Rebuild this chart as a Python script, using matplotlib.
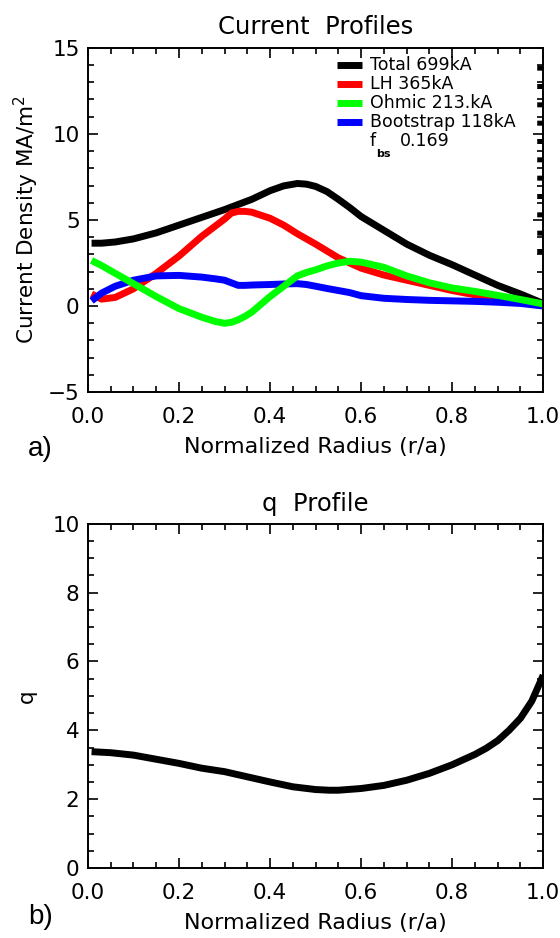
import matplotlib
matplotlib.use("Agg")
import matplotlib.pyplot as plt
from matplotlib.ticker import MultipleLocator

# radial grid for current profiles
r = [0.008, 0.03, 0.06, 0.1, 0.15, 0.2, 0.25, 0.28, 0.3, 0.315, 0.33, 0.345, 0.36, 0.4, 0.43,
     0.46, 0.48, 0.5, 0.525, 0.55, 0.575, 0.6, 0.65, 0.7, 0.75, 0.8, 0.85, 0.9, 0.95, 1.0]
j_total = [3.65, 3.65, 3.72, 3.9, 4.25, 4.7, 5.15, 5.42, 5.6, 5.75, 5.9, 6.05, 6.2, 6.7, 6.98,
           7.12, 7.08, 6.95, 6.65, 6.2, 5.72, 5.2, 4.4, 3.6, 2.95, 2.4, 1.8, 1.2, 0.7, 0.15]
j_lh = [0.7, 0.4, 0.5, 1.0, 1.9, 2.9, 4.05, 4.65, 5.05, 5.4, 5.5, 5.5, 5.45, 5.1, 4.7,
        4.2, 3.9, 3.6, 3.2, 2.8, 2.5, 2.2, 1.8, 1.5, 1.2, 0.9, 0.65, 0.45, 0.3, 0.12]
j_ohmic = [2.65, 2.35, 1.9, 1.3, 0.55, -0.15, -0.65, -0.9, -1.0, -0.95, -0.8, -0.6, -0.35, 0.55, 1.15,
           1.75, 1.95, 2.1, 2.33, 2.5, 2.6, 2.55, 2.25, 1.75, 1.35, 1.05, 0.85, 0.62, 0.38, 0.12]
j_bs = [0.3, 0.75, 1.15, 1.5, 1.75, 1.78, 1.68, 1.58, 1.5, 1.35, 1.2, 1.2, 1.22, 1.25, 1.28,
        1.3, 1.25, 1.15, 1.02, 0.9, 0.78, 0.6, 0.45, 0.38, 0.33, 0.3, 0.27, 0.22, 0.15, 0.0]

legend_labels = ["Total 699kA", "LH 365kA", "Ohmic 213.kA", "Bootstrap 118kA"]
fbs = "0.169"

# q profile
r_q = [0.008, 0.05, 0.1, 0.15, 0.2, 0.25, 0.3, 0.35, 0.4, 0.45, 0.5, 0.53, 0.55,
       0.6, 0.65, 0.7, 0.75, 0.8, 0.85, 0.875, 0.9, 0.925, 0.95, 0.975, 0.99, 1.0]
q = [3.38, 3.35, 3.28, 3.16, 3.04, 2.9, 2.8, 2.65, 2.5, 2.36, 2.28, 2.26, 2.26,
     2.31, 2.4, 2.55, 2.75, 3.0, 3.3, 3.48, 3.7, 4.0, 4.35, 4.85, 5.3, 5.6]

plt.rcParams["font.family"] = ["DejaVu Sans"]

fig = plt.figure(figsize=(5.6, 9.38), dpi=100)
ax1 = fig.add_axes([0.157, 0.582, 0.813, 0.367])
ax2 = fig.add_axes([0.157, 0.0746, 0.813, 0.367])


def style_axes(ax):
    ax.tick_params(which="both", direction="in", top=True, right=True,
                   labelsize=15.5, width=1.2)
    ax.tick_params(which="major", length=7)
    ax.tick_params(which="minor", length=4)
    ax.tick_params(axis="x", pad=11)
    ax.tick_params(axis="y", pad=6)
    for s in ax.spines.values():
        s.set_linewidth(1.4)
    ax.xaxis.set_major_locator(MultipleLocator(0.2))
    ax.xaxis.set_minor_locator(MultipleLocator(0.05))
    ax.xaxis.set_major_formatter(plt.FormatStrFormatter("%.1f"))
    ax.set_xlim(0, 1.0)
    ax.set_xlabel("Normalized Radius (r/a)", fontsize=16)
    ax.xaxis.set_label_coords(0.5, -0.16)
    ax.xaxis.label.set_va("center")


# a) current profiles
lw = 5
ax1.plot(r, j_total, color="black", lw=lw, solid_capstyle="butt")
ax1.plot(r, j_lh, color="#ff0000", lw=lw, solid_capstyle="butt")
ax1.plot(r, j_bs, color="#0000ff", lw=lw, solid_capstyle="butt")
ax1.plot(r, j_ohmic, color="#00ff00", lw=lw, solid_capstyle="butt")
ax1.plot([0.993, 0.993], [3.0, 14.4], color="black", lw=4,
         linestyle=(0, (0.9, 2.4)), solid_capstyle="butt")

style_axes(ax1)
ax1.set_ylim(-5, 15)
ax1.yaxis.set_major_locator(MultipleLocator(5))
ax1.yaxis.set_minor_locator(MultipleLocator(1))
ax1.set_ylabel("Current Density MA/m$^2$", fontsize=15.5)
ax1.yaxis.set_label_coords(-0.135, 0.5)
ax1.yaxis.label.set_va("center")
ax1.set_title("Current  Profiles", fontsize=17.5, pad=10)

colors = ["black", "#ff0000", "#00ff00", "#0000ff"]
rows = [14.0, 12.9, 11.8, 10.68]
for lab, c, yy in zip(legend_labels, colors, rows):
    ax1.plot([0.548, 0.603], [yy, yy], color=c, lw=5, solid_capstyle="butt")
    ax1.text(0.619, yy, lab, fontsize=12.5, va="center", ha="left")
ax1.text(0.619, 9.6, "f", fontsize=12.5, va="center", ha="left")
ax1.text(0.634, 8.85, "bs", fontsize=8, va="center", ha="left", fontweight="bold")
ax1.text(0.685, 9.6, fbs, fontsize=12.5, va="center", ha="left")

fig.text(0.05, 1 - 449 / 938, "a)", fontsize=20, family="Liberation Sans",
         va="center", ha="left")

# b) q profile
ax2.plot(r_q, q, color="black", lw=lw, solid_capstyle="butt")
style_axes(ax2)
ax2.set_ylim(0, 10)
ax2.yaxis.set_major_locator(MultipleLocator(2))
ax2.yaxis.set_minor_locator(MultipleLocator(0.5))
ax2.set_ylabel("q", fontsize=15.5)
ax2.yaxis.set_label_coords(-0.135, 0.5)
ax2.yaxis.label.set_va("center")
ax2.set_title("q  Profile", fontsize=17.5, pad=9)

fig.text(0.05, 1 - 917 / 938, "b)", fontsize=20, family="Liberation Sans",
         va="center", ha="left")

fig.savefig("out.png", dpi=100)
